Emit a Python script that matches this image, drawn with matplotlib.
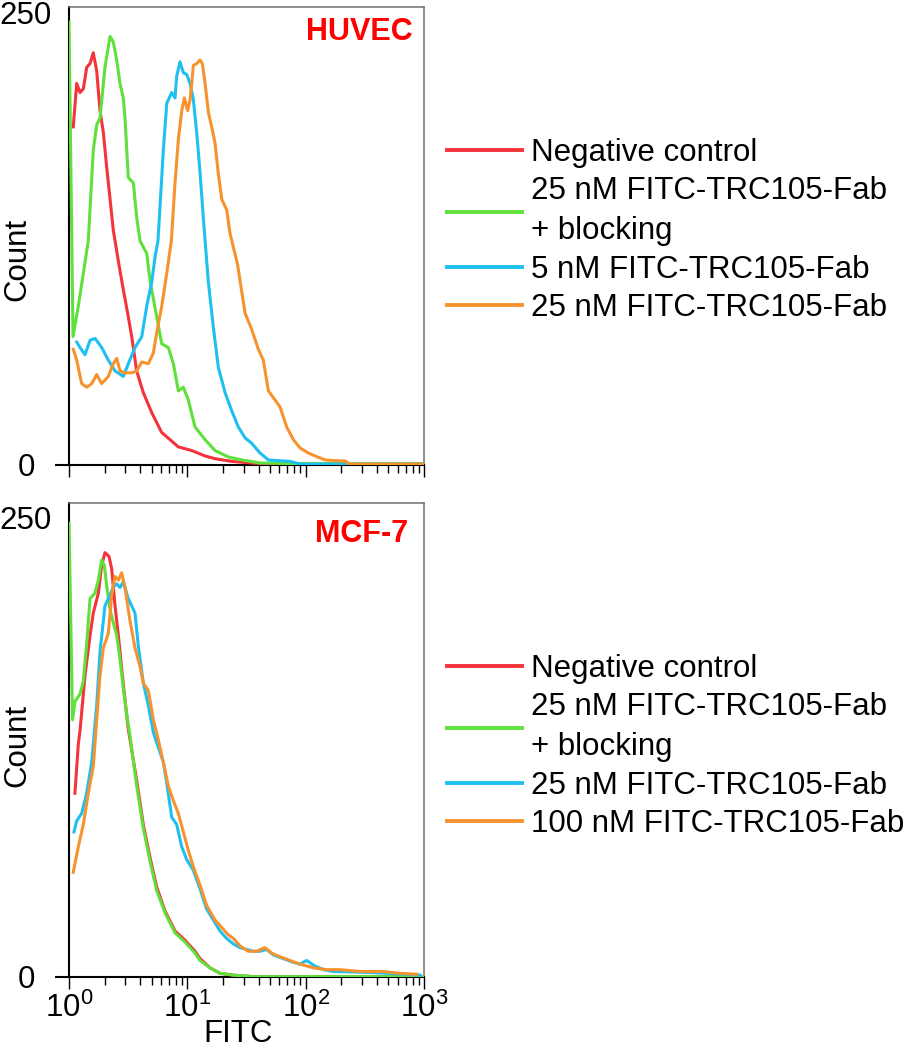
import numpy as np
import matplotlib
matplotlib.use('Agg')
from matplotlib import pyplot as plt
from matplotlib.ticker import LogLocator, NullFormatter

plt.rcParams['font.family'] = ['Liberation Sans', 'DejaVu Sans']

# ---- data: x in log10(FITC) decades, y = count ----
huvec_neg_log = [0.036, 0.065, 0.093, 0.121, 0.150, 0.178, 0.205, 0.234, 0.262, 0.290, 0.318, 0.347,
                 0.374, 0.389, 0.424, 0.459, 0.501, 0.530, 0.572, 0.628, 0.699, 0.783, 0.854, 0.924,
                 1.037, 1.150, 1.234, 1.375, 1.558, 1.811, 3.0]
huvec_neg_cnt = [187, 211, 206, 208, 220, 222, 228, 218, 196, 184, 165, 147,
                 130, 124, 110, 97, 82, 71, 52, 40, 29, 18, 14, 10,
                 8, 5, 3.5, 2, 1, 0.3, 0.3]

huvec_blk_log = [0.0, 0.034, 0.079, 0.121, 0.163, 0.205, 0.234, 0.262, 0.304, 0.347, 0.374, 0.403,
                 0.431, 0.459, 0.473, 0.501, 0.544, 0.572, 0.600, 0.657, 0.685, 0.727, 0.784, 0.839,
                 0.882, 0.924, 0.966, 1.008, 1.065, 1.150, 1.234, 1.347, 1.460, 1.615, 1.868, 3.0]
huvec_blk_cnt = [245, 71, 88, 106, 124, 174, 188, 192, 220, 237, 234, 224,
                 211, 203, 192, 159, 156, 137, 124, 117, 102, 87, 67, 65,
                 56, 41, 43, 36, 21, 14, 8, 4.4, 2.8, 1.1, 0.8, 0.8]

huvec_5nm_log = [0.065, 0.093, 0.135, 0.178, 0.220, 0.276, 0.332, 0.389, 0.459, 0.501, 0.558, 0.615,
                 0.657, 0.699, 0.727, 0.752, 0.797, 0.826, 0.854, 0.868, 0.896, 0.910, 0.938, 0.966,
                 0.995, 1.023, 1.051, 1.079, 1.107, 1.135, 1.150, 1.178, 1.220, 1.262, 1.319, 1.375,
                 1.431, 1.488, 1.544, 1.615, 1.685, 1.769, 1.868, 1.953, 3.0]
huvec_5nm_cnt = [68, 65, 61, 69, 70, 65, 58, 52, 49, 56, 65, 71,
                 88, 101, 115, 124, 174, 200, 204, 206, 203, 215, 223, 217,
                 216, 211, 202, 184, 162, 137, 124, 101, 76, 54, 40, 30,
                 21, 15, 12, 6.6, 2.8, 2.4, 2.0, 0.5, 0.5]

huvec_25nm_log = [0.036, 0.065, 0.107, 0.150, 0.192, 0.234, 0.276, 0.332, 0.374, 0.403, 0.431, 0.473,
                  0.530, 0.572, 0.615, 0.670, 0.713, 0.741, 0.784, 0.826, 0.865, 0.896, 0.924, 0.953,
                  0.975, 1.003, 1.023, 1.037, 1.051, 1.079, 1.107, 1.127, 1.150, 1.178, 1.206, 1.234,
                  1.262, 1.291, 1.333, 1.361, 1.424, 1.488, 1.544, 1.600, 1.642, 1.685, 1.741, 1.784,
                  1.840, 1.896, 1.953, 2.023, 2.094, 2.164, 2.248, 2.333, 2.375, 3.0]
huvec_25nm_cnt = [64, 58, 45, 43, 45, 50, 45, 49, 56, 59, 52, 51,
                  51, 52, 57, 56, 62, 73, 88, 106, 124, 156, 180, 196,
                  203, 196, 202, 211, 221, 222, 224, 222, 211, 195, 187, 178,
                  161, 147, 141, 128, 111, 84, 75, 64, 58, 41, 36, 32,
                  21, 14, 9.4, 6.6, 4.6, 2.8, 2.4, 2.2, 0.5, 0.5]

mcf_neg_log = [0.050, 0.079, 0.093, 0.135, 0.178, 0.205, 0.248, 0.276, 0.304, 0.338, 0.361, 0.389,
               0.417, 0.445, 0.473, 0.501, 0.572, 0.628, 0.685, 0.741, 0.811, 0.896, 0.981, 1.065,
               1.107, 1.192, 1.276, 1.389, 1.56, 3.0]
mcf_neg_cnt = [100, 127, 134, 164, 186, 198, 209, 224, 231, 229, 222, 202,
               186, 168, 151, 135, 107, 83, 65, 49, 36, 25, 20, 14,
               10, 5, 2, 1, 0.2, 0.2]

mcf_blk_log = [0.0, 0.03, 0.051, 0.093, 0.121, 0.150, 0.178, 0.220, 0.248, 0.276, 0.299, 0.318,
               0.347, 0.374, 0.403, 0.431, 0.459, 0.488, 0.516, 0.572, 0.628, 0.685, 0.741, 0.811,
               0.896, 0.981, 1.065, 1.107, 1.192, 1.276, 1.389, 1.56, 3.0]
mcf_blk_cnt = [247, 140, 150, 154, 161, 182, 206, 209, 216, 227, 224, 213,
               200, 193, 186, 173, 157, 143, 131, 104, 81, 63, 47, 35,
               24, 19, 13, 9, 5, 2, 1, 0.2, 0.2]

mcf_25nm_log = [0.042, 0.065, 0.107, 0.149, 0.192, 0.234, 0.262, 0.304, 0.346, 0.374, 0.403, 0.431,
                0.459, 0.501, 0.530, 0.558, 0.586, 0.628, 0.670, 0.713, 0.755, 0.797, 0.825, 0.868,
                0.910, 0.952, 0.994, 1.051, 1.107, 1.163, 1.220, 1.276, 1.332, 1.389, 1.445, 1.501,
                1.558, 1.614, 1.670, 1.727, 1.811, 1.896, 1.952, 2.008, 2.079, 2.149, 2.234, 2.515,
                2.797, 2.966]
mcf_25nm_cnt = [79, 85, 89, 100, 117, 148, 177, 202, 208, 212, 214, 212,
                215, 206, 202, 198, 180, 160, 148, 133, 125, 117, 106, 87,
                83, 71, 64, 58, 48, 37, 31, 25, 21, 18, 16, 15,
                14, 14, 15, 12, 10, 8, 7, 9, 6, 4, 3, 2.5,
                1.7, 1.0]

mcf_100nm_log = [0.036, 0.079, 0.121, 0.163, 0.206, 0.234, 0.262, 0.290, 0.332, 0.361, 0.389, 0.417,
                 0.445, 0.473, 0.515, 0.558, 0.600, 0.628, 0.670, 0.713, 0.755, 0.797, 0.839, 0.882,
                 0.924, 0.966, 1.008, 1.051, 1.107, 1.163, 1.234, 1.290, 1.346, 1.389, 1.445, 1.515,
                 1.586, 1.656, 1.713, 1.783, 1.868, 1.952, 2.065, 2.177, 2.290, 2.459, 2.656, 2.797,
                 2.938]
mcf_100nm_cnt = [57, 71, 83, 100, 115, 140, 164, 179, 187, 208, 218, 216,
                 220, 212, 194, 179, 169, 160, 156, 140, 129, 117, 104, 96,
                 89, 79, 69, 60, 50, 39, 31, 27, 23, 21, 17, 14,
                 14, 16, 13, 11, 9, 7, 5, 4, 4, 3, 3, 2,
                 1.5]

huvec_labels = ['Negative control', '25 nM FITC-TRC105-Fab\n+ blocking',
                '5 nM FITC-TRC105-Fab', '25 nM FITC-TRC105-Fab']
mcf_labels = ['Negative control', '25 nM FITC-TRC105-Fab\n+ blocking',
              '25 nM FITC-TRC105-Fab', '100 nM FITC-TRC105-Fab']

colors = ['#f5333a', '#5fe03a', '#1ec0f0', '#f7932f']

W, H = 911, 1050
fig = plt.figure(figsize=(W / 100, H / 100), dpi=100)


def px_axes(left, top, right, bottom):
    return fig.add_axes([left / W, 1 - bottom / H, (right - left) / W, (bottom - top) / H])


def draw_panel(ax, series, labels, name, name_xy, ytop, show_xlabels, leg_top, count_y):
    for (lx, cnt), c in zip(series, colors):
        ax.plot(10 ** np.array(lx), cnt, color=c, lw=2.2, zorder=3)
    ax.set_xscale('log')
    ax.set_xlim(1, 1000)
    ax.set_ylim(0, ytop)
    ax.xaxis.set_major_locator(LogLocator(base=10, numticks=10))
    ax.xaxis.set_minor_locator(LogLocator(base=10, subs=np.arange(2, 10), numticks=10))
    ax.xaxis.set_minor_formatter(NullFormatter())
    ax.tick_params(axis='x', which='major', direction='out', length=8.5, width=1.0,
                   labelsize=22.5, pad=3, labelbottom=show_xlabels)
    ax.tick_params(axis='x', which='minor', direction='out', length=5.5, width=1.0)
    ax.set_yticks([0, 250])
    ax.tick_params(axis='y', direction='out', length=10, width=1.5, labelsize=22.5, pad=21)
    ax.yaxis.get_major_ticks()[1].tick1line.set_visible(False)
    plt.setp(ax.get_yticklabels(), ha='center')
    for s in ['top', 'right']:
        ax.spines[s].set_color('#707070')
        ax.spines[s].set_linewidth(1.1)
    for s in ['left', 'bottom']:
        ax.spines[s].set_color('black')
        ax.spines[s].set_linewidth(1.5)
    ax.text(name_xy[0], name_xy[1], name, transform=ax.transAxes, ha='right', va='center',
            color='#ff0000', fontsize=22, fontweight='bold')
    fig.text(17 / W, 1 - count_y / H, 'Count', rotation=90, ha='center', va='center', fontsize=22.5)
    leg = ax.legend(ax.get_lines(), labels, loc='upper left',
                    bbox_to_anchor=(447 / W, 1 - leg_top / H), bbox_transform=fig.transFigure,
                    frameon=False, fontsize=22.5, borderpad=0, borderaxespad=0,
                    handlelength=2.4, handletextpad=0.3, labelspacing=0.26)
    for t in leg.get_texts():
        t.set_linespacing(1.45)
    for ln in leg.get_lines():
        ln.set_linewidth(2.8)


ax1 = px_axes(69, 7, 424, 465)
draw_panel(ax1,
           [(huvec_neg_log, huvec_neg_cnt), (huvec_blk_log, huvec_blk_cnt),
            (huvec_5nm_log, huvec_5nm_cnt), (huvec_25nm_log, huvec_25nm_cnt)],
           huvec_labels, 'HUVEC', (0.969, 0.945), 253.3, False, 138, 259)

ax2 = px_axes(69, 503, 424, 977)
draw_panel(ax2,
           [(mcf_neg_log, mcf_neg_cnt), (mcf_blk_log, mcf_blk_cnt),
            (mcf_25nm_log, mcf_25nm_cnt), (mcf_100nm_log, mcf_100nm_cnt)],
           mcf_labels, 'MCF-7', (0.955, 0.935), 258, True, 654, 745)
fig.text(238 / W, 1 - 1034 / H, 'FITC', ha='center', va='center', fontsize=22.5)

fig.savefig('out.png', dpi=100)
